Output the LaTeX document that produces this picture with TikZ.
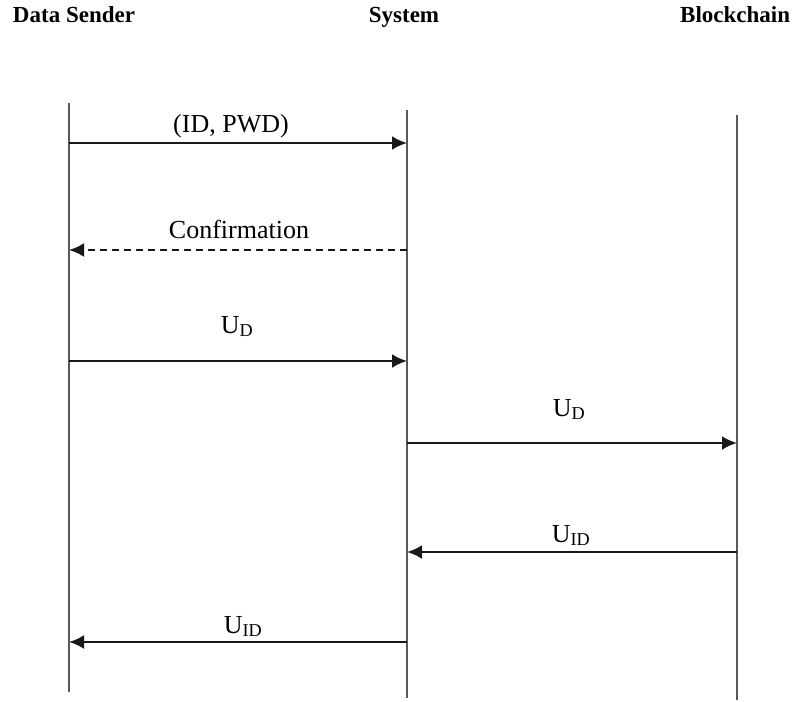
\documentclass[tikz,border=0pt]{standalone}
\usepackage{fontspec}
\setmainfont{Liberation Serif}
\usetikzlibrary{positioning,arrows.meta}
\tikzstyle{actor} = [font=\bfseries\fontsize{23}{27}\selectfont, inner sep=0pt, anchor=base]
\tikzstyle{lifeline} = [draw=black!65, line width=1.8pt]
\tikzstyle{msg} = [-{Latex[length=15pt,width=14pt]}, draw=black!90, line width=2.4pt]
\tikzstyle{reply} = [msg, dash pattern=on 7pt off 5pt]
\tikzstyle{msgtext} = [font=\fontsize{26}{30}\selectfont, inner sep=0pt, anchor=base]

\begin{document}
\begin{tikzpicture}[x=1pt, y=-1pt]
\useasboundingbox (0,0) rectangle (796,702);
% actors
\node[actor] (sender) at (74,22) {Data Sender};
\node[actor] (system) at (404,22) {System};
\node[actor, anchor=base west] (chain) at (680,22) {Blockchain};
% lifelines
\coordinate (sendtop) at (69,103);
\coordinate (sendbot) at (69,692);
\coordinate (systop) at (407,110);
\coordinate (sysbot) at (407,698);
\coordinate (chaintop) at (737,115);
\coordinate (chainbot) at (737,700);
\draw[lifeline] (sendtop) -- (sendbot);
\draw[lifeline] (systop) -- (sysbot);
\draw[lifeline] (chaintop) -- (chainbot);
% message ends
\coordinate (s1) at (69,143);   \coordinate (y1) at (407,143);
\coordinate (s2) at (69,250);   \coordinate (y2) at (407,250);
\coordinate (s3) at (69,361);   \coordinate (y3) at (407,361);
\coordinate (y4) at (407,443);  \coordinate (c4) at (737,443);
\coordinate (y5) at (407,552);  \coordinate (c5) at (737,552);
\coordinate (s6) at (69,642);   \coordinate (y6) at (407,642);
% messages
\draw[msg] (s1) -- (y1);
\draw[reply] (y2) -- (s2);
\draw[msg] (s3) -- (y3);
\draw[msg] (y4) -- (c4);
\draw[msg] (c5) -- (y5);
\draw[msg] (y6) -- (s6);
% labels
\node[msgtext] (login) at (231,132) {(ID, PWD)};
\node[msgtext] (confirm) at (239,238) {Confirmation};
\node[msgtext] (ud1) at (237,333) {U\textsubscript{D}};
\node[msgtext] (ud2) at (569,416) {U\textsubscript{D}};
\node[msgtext] (uid1) at (571,542) {U\textsubscript{ID}};
\node[msgtext] (uid2) at (243,633) {U\textsubscript{ID}};
\end{tikzpicture}
\end{document}
